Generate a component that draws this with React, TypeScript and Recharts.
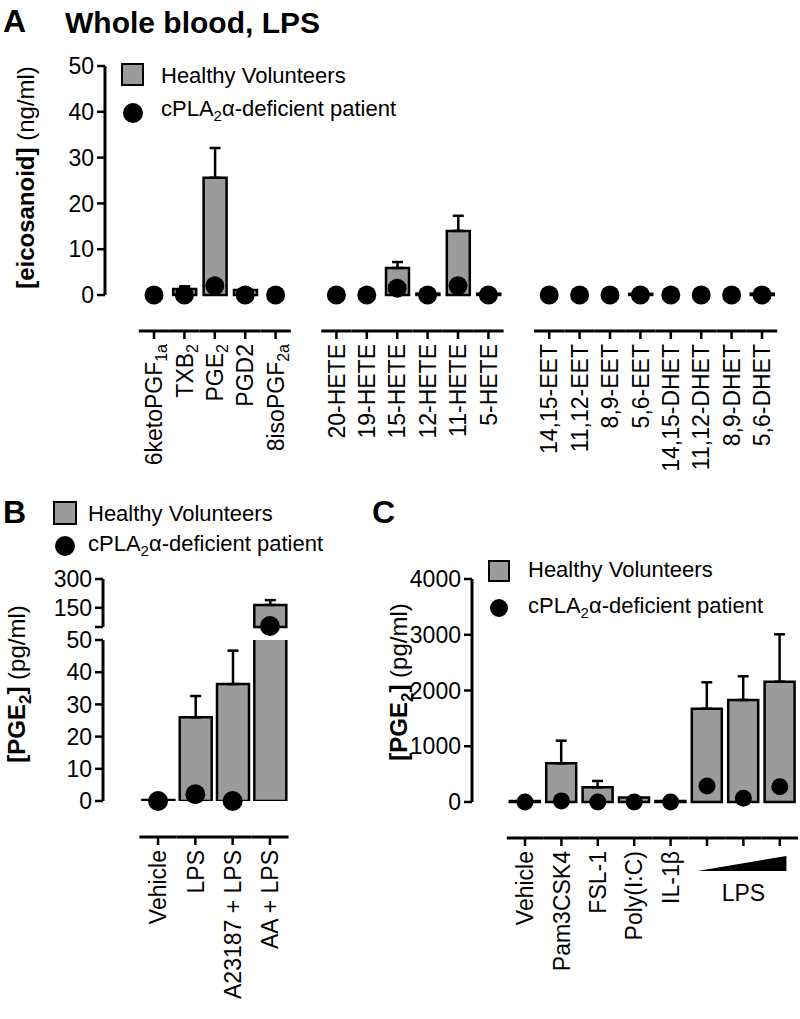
import React from 'react';
import { ComposedChart, Bar, Line, XAxis, YAxis, ErrorBar } from 'recharts';

const FONT = '"Liberation Sans", Arial, Helvetica, sans-serif';
const GREY = '#9b9b9b';

// ---- Panel A: whole blood + LPS, eicosanoids (ng/ml) ----
const prostanoids = ['6ketoPGF_1a', 'TXB_2', 'PGE_2', 'PGD2', '8isoPGF_2a'];
const prostanoidHV = [0, 1.3, 25.6, 1.1, 0];
const prostanoidSD = [0, 0.6, 6.5, 0.3, 0];
const prostanoidPt = [0, 0, 2.0, 0, 0];

const hetes = ['20-HETE', '19-HETE', '15-HETE', '12-HETE', '11-HETE', '5-HETE'];
const heteHV = [0, 0, 5.9, 0.3, 14.0, 0.3];
const heteSD = [0, 0, 1.3, 0, 3.3, 0];
const hetePt = [0, 0, 1.5, 0, 2.0, 0];

const eets = ['14,15-EET', '11,12-EET', '8,9-EET', '5,6-EET', '14,15-DHET', '11,12-DHET', '8,9-DHET', '5,6-DHET'];
const eetHV = [0, 0, 0, 0.25, 0, 0, 0, 0.3];
const eetSD = [0, 0, 0, 0, 0, 0, 0, 0];
const eetPt = [0, 0, 0, 0, 0, 0, 0, 0];

const ticksA = [0, 10, 20, 30, 40, 50];

// ---- Panel B: PGE2 (pg/ml), broken axis ----
const stimB = ['Vehicle', 'LPS', 'A23187 + LPS', 'AA + LPS'];
const hvB = [0.3, 26.0, 36.3, 165];
const sdB = [0, 6.6, 10.4, 25];
const ptB = [0, 2.1, 0, 55];
const BREAK_B = 50;
const ticksBLow = [0, 10, 20, 30, 40, 50];
const ticksBHigh = [50, 150, 300];

// ---- Panel C: PGE2 (pg/ml) by stimulus ----
const stimC = ['Vehicle', 'Pam3CSK4', 'FSL-1', 'Poly(I:C)', 'IL-1β', 'LPS (low)', 'LPS (mid)', 'LPS (high)'];
const lpsDoses = ['LPS (low)', 'LPS (mid)', 'LPS (high)'];
const hvC = [20, 694, 263, 80, 20, 1674, 1830, 2158];
const sdC = [0, 406, 114, 0, 0, 473, 425, 850];
const ptC = [0, 20, 0, 0, 0, 287, 66, 275];
const ticksC = [0, 1000, 2000, 3000, 4000];

type Row = { name: string; hv: number | null; err: number[] | null; pt: number | null };

const rows = (names: string[], hv: number[], sd: number[], pt: number[]): Row[] =>
  names.map((name, i) => ({ name, hv: hv[i], err: [0, sd[i]], pt: pt[i] }));

const gap = (name: string): Row => ({ name, hv: null, err: null, pt: null });

const dataA: Row[] = [
  ...rows(prostanoids, prostanoidHV, prostanoidSD, prostanoidPt),
  gap('gap-1'),
  ...rows(hetes, heteHV, heteSD, hetePt),
  gap('gap-2'),
  ...rows(eets, eetHV, eetSD, eetPt),
];

// lower part of the broken axis keeps values up to the break, upper part the rest
const dataBLow: Row[] = stimB.map((name, i) => ({
  name,
  hv: hvB[i],
  err: hvB[i] <= BREAK_B ? [0, sdB[i]] : null,
  pt: ptB[i] <= BREAK_B ? ptB[i] : null,
}));
const dataBHigh: Row[] = stimB.map((name, i) => ({
  name,
  hv: hvB[i] > BREAK_B ? hvB[i] : null,
  err: hvB[i] > BREAK_B ? [0, sdB[i]] : null,
  pt: ptB[i] > BREAK_B ? ptB[i] : null,
}));

const dataC: Row[] = rows(stimC, hvC, sdC, ptC);

const axisLine = { stroke: '#000', strokeWidth: 3 };
const tickLine = { stroke: '#000', strokeWidth: 2.5 };
const tickText = { fill: '#000', fontSize: 23 };

// x axis drawn detached below the plot, one segment per category
const CatTick = (props: any) => {
  const { x, y, payload, drop, half } = props;
  const name = String(payload?.value ?? '');
  if (name.startsWith('gap')) return null;
  const ly = y + drop;
  const ty = ly + 13;
  const [main, sub] = name.split('_');
  const isDose = lpsDoses.includes(name);
  return (
    <g>
      <line x1={x - half} x2={x + half} y1={ly} y2={ly} stroke="#000" strokeWidth={3} />
      <line x1={x} x2={x} y1={ly} y2={ly + 8} stroke="#000" strokeWidth={2.5} />
      {!isDose && (
        <text x={x} y={ty} transform={`rotate(-90 ${x} ${ty})`} textAnchor="end" fontSize={23} fill="#000" dy="0.36em">
          {main}
          {sub && (
            <tspan dy={5} fontSize={16}>
              {sub}
            </tspan>
          )}
        </text>
      )}
      {name === lpsDoses[1] && (
        <g>
          <polygon points={`${x - 46},${ly + 33} ${x + 43},${ly + 33} ${x + 43},${ly + 18}`} fill="#000" />
          <text x={x} y={ly + 55} textAnchor="middle" fontSize={23} fill="#000" dy="0.36em">
            LPS
          </text>
        </g>
      )}
    </g>
  );
};

const YTitle = (props: any) => {
  const { viewBox, dx, dyc, bold, sub, tail } = props;
  const cx = viewBox.x + dx;
  const cy = viewBox.y + viewBox.height / 2 + dyc;
  return (
    <text x={cx} y={cy} transform={`rotate(-90 ${cx} ${cy})`} textAnchor="middle" fontSize={24} fill="#000" dy="0.36em">
      <tspan fontWeight="bold">{bold}</tspan>
      {sub && (
        <tspan fontWeight="bold" fontSize={17} dy={6}>
          {sub}
        </tspan>
      )}
      {sub && (
        <tspan fontWeight="bold" dy={-6}>
          ]
        </tspan>
      )}
      <tspan>{tail}</tspan>
    </text>
  );
};

const Sub = ({ children }: { children: React.ReactNode }) => (
  <span style={{ fontSize: 15, position: 'relative', top: 5 }}>{children}</span>
);

const Key = ({ sx, sy, size, cx, cy, r, tx, y1, y2 }: any) => (
  <>
    <div
      style={{
        position: 'absolute', left: sx, top: sy, width: size, height: size,
        boxSizing: 'border-box', border: '2.5px solid #000', background: GREY,
      }}
    />
    <div style={{ position: 'absolute', left: cx - r, top: cy - r, width: 2 * r, height: 2 * r, borderRadius: '50%', background: '#000' }} />
    <div style={{ position: 'absolute', left: tx, top: y1 - 11, fontSize: 22, lineHeight: '22px', whiteSpace: 'nowrap' }}>
      Healthy Volunteers
    </div>
    <div style={{ position: 'absolute', left: tx, top: y2 - 11, fontSize: 22, lineHeight: '22px', whiteSpace: 'nowrap' }}>
      cPLA<Sub>2</Sub>α-deficient patient
    </div>
  </>
);

const Letter = ({ x, y, children, size = 32 }: any) => (
  <div style={{ position: 'absolute', left: x, top: y, fontSize: size, lineHeight: `${size}px`, fontWeight: 'bold', whiteSpace: 'nowrap' }}>
    {children}
  </div>
);

const Series = ({ barSize, r, yAxisId }: any) => [
  <Bar
    key="hv"
    dataKey="hv"
    yAxisId={yAxisId}
    fill={GREY}
    stroke="#000"
    strokeWidth={2.5}
    barSize={barSize}
    isAnimationActive={false}
  >
    <ErrorBar dataKey="err" direction="y" width={5.5} stroke="#000" strokeWidth={2.5} />
  </Bar>,
  <Line
    key="pt"
    dataKey="pt"
    yAxisId={yAxisId}
    stroke="none"
    dot={{ r, fill: '#000', stroke: '#000', strokeWidth: 0, clipDot: false }}
    activeDot={false}
    isAnimationActive={false}
  />,
];

export default function App() {
  return (
    <div style={{ position: 'absolute', left: 0, top: 0, width: 800, height: 1019, fontFamily: FONT, color: '#000', background: '#fff' }}>
      <Letter x={3} y={5}>A</Letter>
      <Letter x={65} y={8} size={30}>Whole blood, LPS</Letter>

      {/* Panel A */}
      <div style={{ position: 'absolute', left: 0, top: 0 }}>
        <ComposedChart width={800} height={485} data={dataA} margin={{ top: 66, right: 22.8, bottom: 0, left: 0 }}>
          <XAxis
            dataKey="name"
            interval={0}
            height={190}
            axisLine={false}
            tickLine={false}
            tickSize={0}
            tickMargin={0}
            padding={{ left: 33.8, right: 0 }}
            tick={<CatTick drop={36} half={15.2} />}
          />
          <YAxis
            yAxisId="a"
            width={105}
            domain={[0, 50]}
            ticks={ticksA}
            interval={0}
            axisLine={axisLine}
            tickLine={tickLine}
            tickSize={8}
            tickMargin={3}
            tick={tickText}
            label={<YTitle dx={25} dyc={-3} bold="[eicosanoid]" tail=" (ng/ml)" />}
          />
          {Series({ barSize: 23, r: 9.5, yAxisId: 'a' })}
        </ComposedChart>
      </div>
      <Key sx={121} sy={63} size={23} cx={133} cy={113} r={10} tx={161} y1={75.5} y2={108.5} />

      {/* Panel B */}
      <Letter x={3} y={495.5}>B</Letter>
      <Key sx={53} sy={501} size={24} cx={65} cy={546} r={10} tx={88} y1={513.5} y2={543.5} />
      <div style={{ position: 'absolute', left: 0, top: 560 }}>
        <ComposedChart width={300} height={82} data={dataBHigh} margin={{ top: 19, right: 11.4, bottom: 15, left: 0 }}>
          <XAxis dataKey="name" hide padding={{ left: 36.4, right: 0 }} />
          <YAxis
            yAxisId="hi"
            width={103}
            domain={[BREAK_B, 300]}
            ticks={ticksBHigh}
            interval={0}
            tickFormatter={(v: number) => (v === BREAK_B ? '' : String(v))}
            axisLine={axisLine}
            tickLine={tickLine}
            tickSize={8}
            tickMargin={3}
            tick={tickText}
          />
          {Series({ barSize: 32, r: 10, yAxisId: 'hi' })}
        </ComposedChart>
      </div>
      <div style={{ position: 'absolute', left: 0, top: 600 }}>
        <ComposedChart width={300} height={419} data={dataBLow} margin={{ top: 40, right: 11.4, bottom: 0, left: 0 }}>
          <XAxis
            dataKey="name"
            interval={0}
            height={218}
            axisLine={false}
            tickLine={false}
            tickSize={0}
            tickMargin={0}
            padding={{ left: 36.4, right: 0 }}
            tick={<CatTick drop={36} half={18.65} />}
          />
          <YAxis
            yAxisId="lo"
            width={103}
            domain={[0, BREAK_B]}
            allowDataOverflow
            ticks={ticksBLow}
            interval={0}
            axisLine={axisLine}
            tickLine={tickLine}
            tickSize={8}
            tickMargin={3}
            tick={tickText}
            label={<YTitle dx={16} dyc={-36.5} bold="[PGE" sub="2" tail=" (pg/ml)" />}
          />
          {Series({ barSize: 32, r: 10, yAxisId: 'lo' })}
        </ComposedChart>
      </div>

      {/* Panel C */}
      <Letter x={372} y={495.5}>C</Letter>
      <div style={{ position: 'absolute', left: 380, top: 540 }}>
        <ComposedChart width={420} height={479} data={dataC} margin={{ top: 39, right: 2, bottom: 0, left: 0 }}>
          <XAxis
            dataKey="name"
            interval={0}
            height={217}
            axisLine={false}
            tickLine={false}
            tickSize={0}
            tickMargin={0}
            padding={{ left: 34.8, right: 0 }}
            tick={<CatTick drop={36} half={18.2} />}
          />
          <YAxis
            yAxisId="c"
            width={92}
            domain={[0, 4000]}
            ticks={ticksC}
            interval={0}
            axisLine={axisLine}
            tickLine={tickLine}
            tickSize={8}
            tickMargin={3}
            tick={tickText}
            label={<YTitle dx={18} dyc={-8.5} bold="[PGE" sub="2" tail=" (pg/ml)" />}
          />
          {Series({ barSize: 30, r: 8.5, yAxisId: 'c' })}
        </ComposedChart>
      </div>
      <Key sx={488} sy={560} size={22} cx={499} cy={608} r={9} tx={528} y1={570} y2={605.5} />
    </div>
  );
}
